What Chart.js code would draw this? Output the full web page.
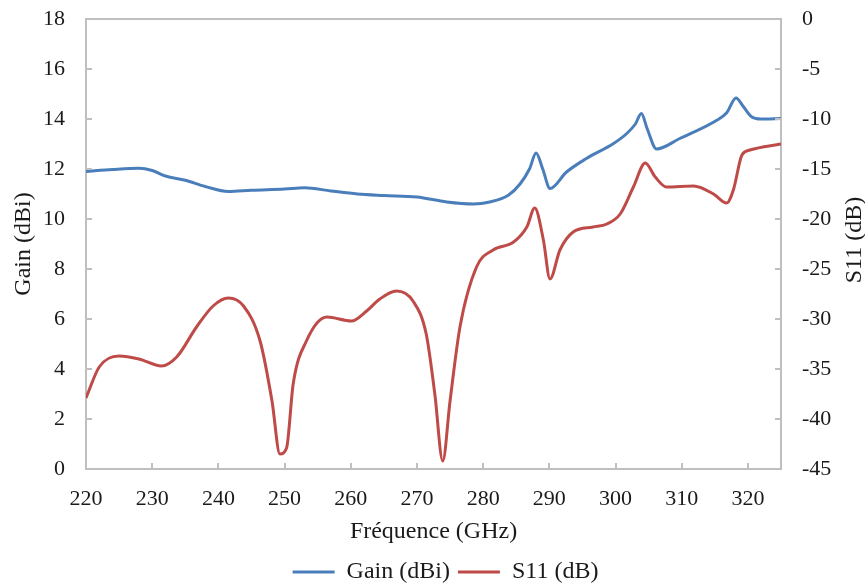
<!DOCTYPE html>
<html>
<head>
<meta charset="utf-8">
<script src="https://cdn.jsdelivr.net/npm/chart.js@4.4.0/dist/chart.umd.min.js"></script>
<style>
  html, body { margin: 0; padding: 0; background: #fff; }
  #chart { display: block; }
</style>
</head>
<body>
<canvas id="chart" width="865" height="585"></canvas>
<script>
// axis ticks
const xTicks = [220, 230, 240, 250, 260, 270, 280, 290, 300, 310, 320];
const gainTicks = [0, 2, 4, 6, 8, 10, 12, 14, 16, 18];
const s11Ticks = [0, -5, -10, -15, -20, -25, -30, -35, -40, -45];

// Gain (dBi)
const gainFreq = [220, 224, 228, 230, 232, 235, 238, 241.5, 245, 250, 253, 257, 261, 265, 270, 274.5, 278.5, 281, 283.8, 285.6, 287, 288, 289, 290.1, 292.6, 295.6, 299.7, 301.7, 303, 303.9, 304.8, 306.2, 309.7, 315.3, 316.8, 318.2, 319.3, 320.5, 322, 325];
const gainVals = [11.9, 11.98, 12.03, 11.94, 11.72, 11.55, 11.3, 11.1, 11.15, 11.2, 11.25, 11.12, 11.0, 10.94, 10.88, 10.68, 10.6, 10.68, 10.95, 11.41, 12.0, 12.64, 12.0, 11.22, 11.88, 12.42, 13.02, 13.42, 13.8, 14.22, 13.6, 12.8, 13.22, 13.95, 14.25, 14.84, 14.5, 14.1, 14.0, 14.02];

// S11 (dB)
const s11Freq = [220, 222, 225, 228, 231.4, 233.7, 236.7, 239.2, 241.5, 243.8, 246.3, 248.1, 249.3, 250.3, 251.3, 253.3, 256.4, 260.1, 262.4, 264.4, 266.9, 269.4, 271.4, 272.7, 273.9, 275, 276.5, 279, 281.5, 284.6, 286.6, 287.8, 289.1, 290.1, 291.6, 293.6, 296.6, 298.7, 300.7, 302.7, 304.5, 306, 307.7, 311.8, 314.8, 316.8, 317.8, 319.1, 320.3, 325];
const s11Vals = [-37.9, -34.8, -33.7, -34.0, -34.7, -33.8, -30.8, -28.7, -27.9, -28.7, -32.2, -38.2, -43.5, -42.9, -36.5, -32.2, -29.8, -30.2, -29.2, -28.0, -27.2, -28.2, -31.5, -37.5, -44.2, -38.2, -30.8, -24.8, -23.1, -22.3, -20.8, -18.9, -22.1, -26.0, -23.1, -21.3, -20.8, -20.5, -19.5, -16.8, -14.4, -15.8, -16.8, -16.7, -17.5, -18.4, -17.1, -13.6, -13.1, -12.5];

const FONT = "'Liberation Serif', 'Times New Roman', serif";
const AXIS_COLOR = '#bfbfbf';
const TEXT_COLOR = '#1a1a1a';

function toPoints(xs, ys) {
    return xs.map((x, i) => ({ x: x, y: ys[i] }));
}

function fixedTicks(list) {
    return function(scale) {
        scale.ticks = list.map(v => ({ value: v }));
    };
}

// largeur fixe pour les axes verticaux, sans marge haute/basse
function fixedWidth(w) {
    return function(scale) {
        scale.width = w;
        scale.paddingTop = 0;
        scale.paddingBottom = 0;
    };
}

function drawVerticalTitle(ctx, text, x, y) {
    ctx.save();
    ctx.translate(x, y);
    ctx.rotate(-Math.PI / 2);
    ctx.fillText(text, 0, 0);
    ctx.restore();
}

// petits traits vers l'intérieur + cadre du haut + titres verticaux
const boxPlugin = {
    id: 'boxPlugin',
    afterDraw(chart) {
        const ctx = chart.ctx;
        const area = chart.chartArea;
        const len = 6;
        ctx.save();
        ctx.strokeStyle = AXIS_COLOR;
        ctx.lineWidth = 2;
        ctx.beginPath();
        ctx.moveTo(area.left, area.top);
        ctx.lineTo(area.right, area.top);
        chart.scales.x.ticks.forEach(t => {
            const px = Math.round(chart.scales.x.getPixelForValue(t.value));
            ctx.moveTo(px, area.bottom);
            ctx.lineTo(px, area.bottom - len);
        });
        chart.scales.y.ticks.forEach(t => {
            const py = Math.round(chart.scales.y.getPixelForValue(t.value));
            ctx.moveTo(area.left, py);
            ctx.lineTo(area.left + len, py);
        });
        chart.scales.y1.ticks.forEach(t => {
            const py = Math.round(chart.scales.y1.getPixelForValue(t.value));
            ctx.moveTo(area.right, py);
            ctx.lineTo(area.right - len, py);
        });
        ctx.stroke();

        ctx.fillStyle = TEXT_COLOR;
        ctx.font = '24px ' + FONT;
        ctx.textAlign = 'center';
        ctx.textBaseline = 'middle';
        const midY = (area.top + area.bottom) / 2;
        drawVerticalTitle(ctx, 'Gain (dBi)', 24, midY);
        drawVerticalTitle(ctx, 'S11 (dB)', 855, midY - 4);
        ctx.restore();
    }
};

new Chart(document.getElementById('chart'), {
    type: 'line',
    data: {
        datasets: [{
            label: 'Gain (dBi)',
            data: toPoints(gainFreq, gainVals),
            borderColor: '#4a7ebb',
            backgroundColor: '#4a7ebb',
            borderWidth: 3,
            pointRadius: 0,
            cubicInterpolationMode: 'monotone',
            yAxisID: 'y'
        }, {
            label: 'S11 (dB)',
            data: toPoints(s11Freq, s11Vals),
            borderColor: '#be4b48',
            backgroundColor: '#be4b48',
            borderWidth: 3,
            pointRadius: 0,
            cubicInterpolationMode: 'monotone',
            yAxisID: 'y1'
        }]
    },
    options: {
        responsive: false,
        animation: false,
        layout: { padding: { top: 19, left: 26, right: 0, bottom: -9 } },
        plugins: {
            tooltip: { enabled: false },
            legend: {
                position: 'bottom',
                labels: {
                    usePointStyle: true,
                    pointStyle: 'line',
                    pointStyleWidth: 42,
                    color: TEXT_COLOR,
                    padding: 8,
                    font: { family: FONT, size: 24 }
                }
            }
        },
        scales: {
            x: {
                type: 'linear',
                min: 220,
                max: 325,
                afterBuildTicks: fixedTicks(xTicks),
                afterFit(scale) { scale.height = 83; },
                grid: { display: false },
                border: { display: true, color: AXIS_COLOR, width: 2 },
                ticks: { color: TEXT_COLOR, padding: 9, maxRotation: 0, font: { family: FONT, size: 22 } },
                title: { display: true, text: 'Fréquence (GHz)', color: TEXT_COLOR, padding: { top: 0, bottom: 6 }, font: { family: FONT, size: 24 } }
            },
            y: {
                position: 'left',
                min: 0,
                max: 18,
                afterBuildTicks: fixedTicks(gainTicks),
                afterFit: fixedWidth(60),
                grid: { display: false },
                border: { display: true, color: AXIS_COLOR, width: 2 },
                ticks: { color: TEXT_COLOR, padding: 13, font: { family: FONT, size: 22 } }
            },
            y1: {
                position: 'right',
                min: -45,
                max: 0,
                afterBuildTicks: fixedTicks(s11Ticks),
                afterFit: fixedWidth(84),
                grid: { display: false },
                border: { display: true, color: AXIS_COLOR, width: 2 },
                ticks: { color: TEXT_COLOR, padding: 13, font: { family: FONT, size: 22 } }
            }
        }
    },
    plugins: [boxPlugin]
});
</script>
</body>
</html>
